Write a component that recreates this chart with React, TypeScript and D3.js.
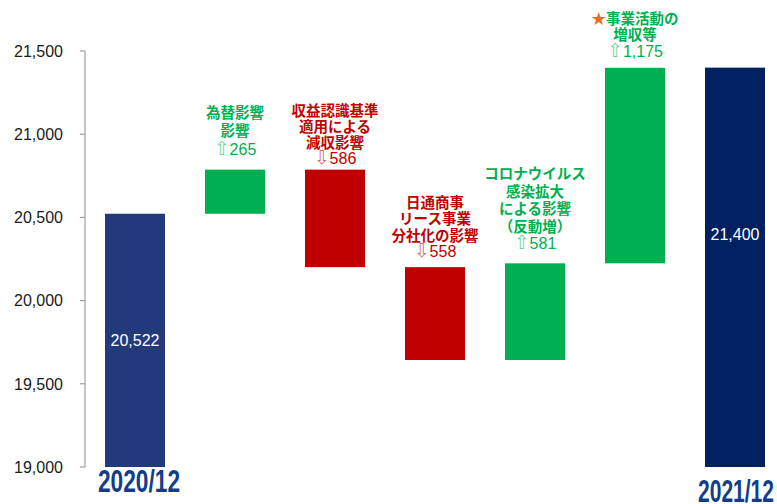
import React from "react";
import * as d3 from "d3";

// ---- data ----
const categories = ["2020/12", "為替影響", "収益認識", "日通商事", "コロナ", "事業活動", "2021/12"];
const startValue = 20522;
const endValue = 21400;
const deltas = [265, -586, -558, 581, 1175];
const deltaLabels = [
  ["為替影響", "影響"],
  ["収益認識基準", "適用による", "減収影響"],
  ["日通商事", "リース事業", "分社化の影響"],
  ["コロナウイルス", "感染拡大", "による影響", "（反動増）"],
  ["★事業活動の", "増収等"],
];
const deltaNumbers = ["265", "586", "558", "581", "1,175"];
const yTicks = [19000, 19500, 20000, 20500, 21000, 21500];

// ---- layout / style ----
const W = 777;
const H = 504;
const GREEN = "#00b050";
const RED = "#c00000";
const labelGap = [15, 6, 10, 14, 11];
const labelLineH = [18.5, 16, 16.5, 17.5, 16.5];

export default function App() {
  const y = d3.scaleLinear().domain([19000, 21500]).range([467, 51]);
  const x = d3
    .scaleBand<string>()
    .domain(categories)
    .range([85, 785])
    .paddingInner(0.4)
    .paddingOuter(0.2);
  const bw = x.bandwidth();

  let running = startValue;
  const steps = deltas.map((d, i) => {
    const from = running;
    const to = running + d;
    running = to;
    return { cat: categories[i + 1], from, to, d, i };
  });

  const fmt = d3.format(",");

  return (
    <div style={{ position: "absolute", left: 0, top: 0, width: W, height: H, background: "#fff" }}>
      <svg width={W} height={H} style={{ display: "block" }}>
        {/* y axis */}
        <line x1={85} x2={85} y1={y(21500)} y2={y(19000)} stroke="#8c8c8c" strokeWidth={1} />
        {yTicks.map((t) => (
          <g key={t}>
            <line x1={80} x2={85} y1={y(t)} y2={y(t)} stroke="#8c8c8c" strokeWidth={1} />
            <text
              x={63}
              y={y(t)}
              dy="0.36em"
              textAnchor="end"
              fontFamily="'Liberation Sans', Arial, sans-serif"
              fontSize={16}
              fill="#1a1a1a"
            >
              {fmt(t)}
            </text>
          </g>
        ))}

        {/* start total */}
        <rect
          x={x(categories[0])}
          y={y(startValue)}
          width={bw}
          height={y(19000) - y(startValue)}
          fill="#223a7b"
        />
        <text
          x={(x(categories[0]) as number) + bw / 2}
          y={(y(startValue) + y(19000)) / 2}
          dy="0.36em"
          textAnchor="middle"
          fontFamily="'Liberation Sans', Arial, sans-serif"
          fontSize={16}
          fill="#fff"
        >
          {fmt(startValue)}
        </text>

        {/* end total */}
        <rect
          x={x(categories[6])}
          y={y(endValue)}
          width={bw}
          height={y(19000) - y(endValue)}
          fill="#002060"
        />
        <text
          x={(x(categories[6]) as number) + bw / 2}
          y={y(20400)}
          dy="0.36em"
          textAnchor="middle"
          fontFamily="'Liberation Sans', Arial, sans-serif"
          fontSize={16}
          fill="#fff"
        >
          {fmt(endValue)}
        </text>

        {/* deltas */}
        {steps.map((s) => {
          const up = s.d >= 0;
          const col = up ? GREEN : RED;
          const top = y(Math.max(s.from, s.to));
          const bot = y(Math.min(s.from, s.to));
          const cx = (x(s.cat) as number) + bw / 2;
          const lines = deltaLabels[s.i];
          const lh = labelLineH[s.i];
          const numBase = top - labelGap[s.i];
          return (
            <g key={s.cat}>
              <rect x={x(s.cat)} y={top} width={bw} height={bot - top} fill={col} />
              {lines.map((ln, j) => {
                const yy = numBase - (lines.length - j) * lh;
                const star = ln.startsWith("★");
                return (
                  <text
                    key={j}
                    x={cx}
                    y={yy}
                    textAnchor="middle"
                    fontFamily="'Noto Sans CJK JP', sans-serif"
                    fontWeight="bold"
                    fontSize={14.5}
                    fill={col}
                  >
                    {star ? <tspan fill="#f26b1d">★</tspan> : null}
                    {star ? ln.slice(1) : ln}
                  </text>
                );
              })}
              <text
                x={cx}
                y={numBase}
                textAnchor="middle"
                fontFamily="'Liberation Sans', Arial, sans-serif"
                fontSize={16}
                fill={col}
              >
                <tspan fontFamily="'DejaVu Sans', sans-serif" fontSize={19} fillOpacity={0.6}>
                  {up ? "⇧" : "⇩"}
                </tspan>
                {deltaNumbers[s.i]}
              </text>
            </g>
          );
        })}

        {/* category labels for totals */}
        <text
          x={(x(categories[0]) as number) + bw / 2 + 4}
          y={492}
          textAnchor="middle"
          fontFamily="'Liberation Sans', Arial, sans-serif"
          fontWeight="bold"
          fontSize={32}
          textLength={82}
          lengthAdjust="spacingAndGlyphs"
          fill="#123d8c"
        >
          {categories[0]}
        </text>
        <text
          x={(x(categories[6]) as number) + bw / 2 + 1}
          y={502}
          textAnchor="middle"
          fontFamily="'Liberation Sans', Arial, sans-serif"
          fontWeight="bold"
          fontSize={31}
          textLength={76}
          lengthAdjust="spacingAndGlyphs"
          fill="#123d8c"
        >
          {categories[6]}
        </text>
      </svg>
    </div>
  );
}
